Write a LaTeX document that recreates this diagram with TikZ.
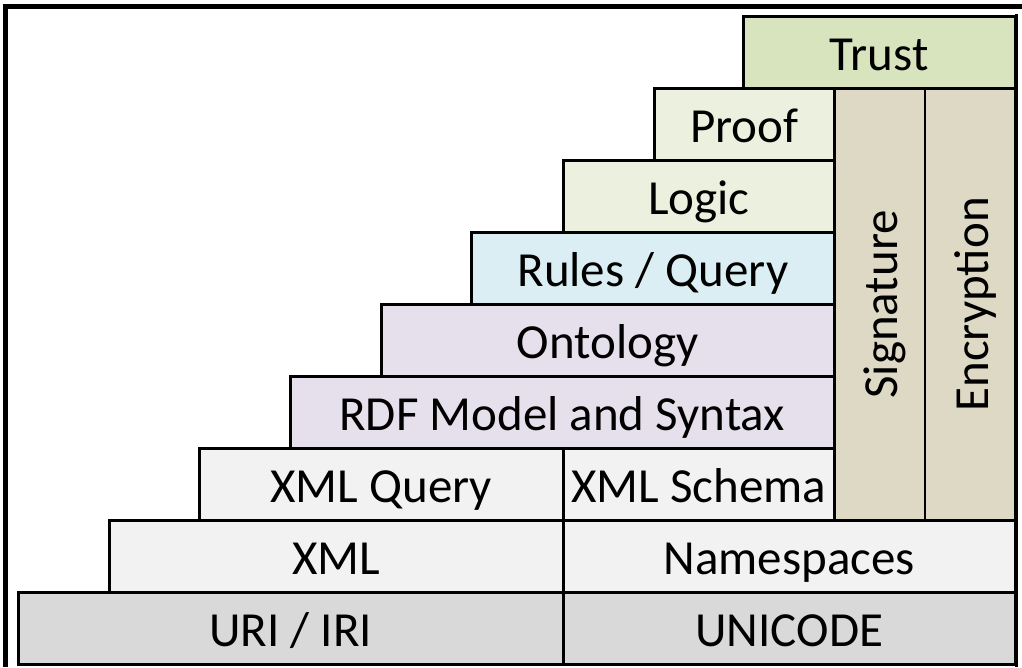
\documentclass[tikz,border=0pt]{standalone}
\usepackage{fontspec}
\setmainfont{Carlito}
\definecolor{trustgreen}{HTML}{D7E4BD}
\definecolor{logicgreen}{HTML}{EBF1DE}
\definecolor{rulesblue}{HTML}{DAEEF3}
\definecolor{rdfviolet}{HTML}{E5E0EC}
\definecolor{xmlgrey}{HTML}{F2F2F2}
\definecolor{basegrey}{HTML}{D9D9D9}
\definecolor{securetan}{HTML}{DDD9C4}
\begin{document}
\begin{tikzpicture}[x=1pt,y=-1pt,line width=2.6pt,
    layer/.style={draw,rectangle,anchor=north west,inner sep=0pt,minimum height=72pt,
        text height=36pt,text depth=0pt,font=\fontsize{49}{58}\selectfont},
    side/.style={layer,minimum width=90.5pt,minimum height=432pt},
    sidetext/.style={rotate=90,inner sep=0pt,text height=36pt,text depth=0pt,
        font=\fontsize{49}{58}\selectfont}]
    \useasboundingbox (0,0) rectangle (1022,667);
    % frame of the screenshot
    \draw[line width=5pt] (5.5,667) -- (5.5,6.5) -- (1022,6.5);
    \draw[line width=3pt] (1016.5,14) -- (1016.5,667);
    % stack, from the top down
    \node[layer,fill=trustgreen,minimum width=272pt] (trust) at (742,15) {Trust};
    \node[layer,fill=logicgreen,minimum width=180pt] (proof) at (653,87) {Proof};
    \node[layer,fill=logicgreen,minimum width=271pt] (logic) at (562,159) {Logic};
    \node[layer,fill=rulesblue,minimum width=363pt] (rules) at (470,231) {Rules / Query};
    \node[layer,fill=rdfviolet,minimum width=453pt] (ontology) at (380,303) {Ontology};
    \node[layer,fill=rdfviolet,minimum width=544pt] (rdf) at (289,375) {RDF Model and Syntax};
    \node[layer,fill=xmlgrey,minimum width=364pt] (xmlquery) at (198,447) {XML Query};
    \node[layer,fill=xmlgrey,minimum width=271pt] (xmlschema) at (562,447) {XML Schema};
    \node[layer,fill=xmlgrey,minimum width=454pt] (xml) at (108,519) {XML};
    \node[layer,fill=xmlgrey,minimum width=452pt] (namespaces) at (562,519) {Namespaces};
    \node[layer,fill=basegrey,minimum width=545pt] (uri) at (17,591) {URI / IRI};
    \node[layer,fill=basegrey,minimum width=452pt] (unicode) at (562,591) {UNICODE};
    % security columns
    \node[side,fill=securetan] (signature) at (833,87) {};
    \node[sidetext] at (signature.center) {Signature};
    \node[side,fill=securetan] (encryption) at (923.5,87) {};
    \node[sidetext] at (encryption.center) {Encryption};
\end{tikzpicture}
\end{document}
